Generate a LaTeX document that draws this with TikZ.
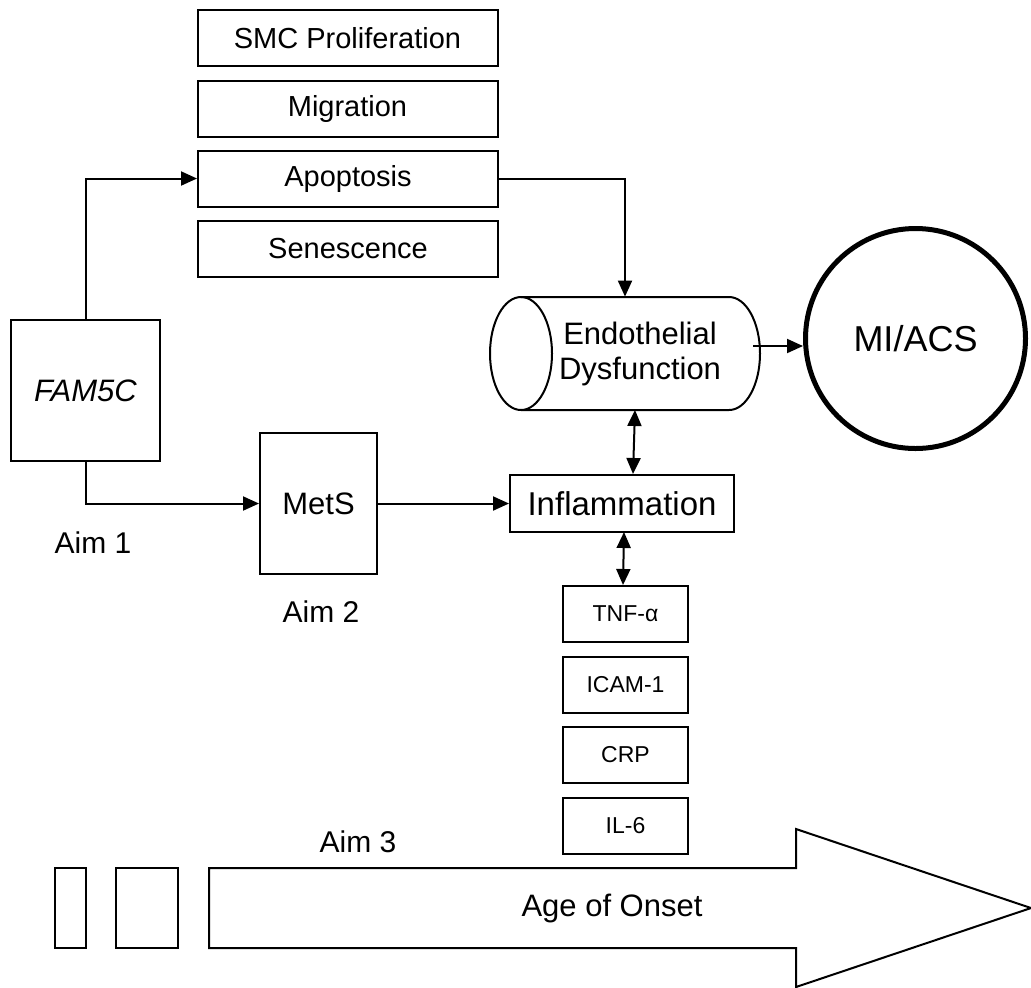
\documentclass[tikz,border=0pt]{standalone}
\usepackage{fontspec}
\setmainfont{Liberation Sans}
\usetikzlibrary{positioning, arrows.meta}
\tikzset{effect/.style={draw,line width=1pt,minimum width=150pt,minimum height=28pt,inner sep=0pt,font=\fontsize{14.5}{17}\selectfont},
         aimbox/.style={draw,line width=1pt,minimum height=70.5pt,inner sep=0pt,font=\fontsize{15.5}{18}\selectfont},
         marker/.style={draw,line width=1pt,minimum width=62.5pt,minimum height=28pt,inner sep=0pt,font=\fontsize{11.5}{13}\selectfont},
         aim/.style={inner sep=0pt,font=\fontsize{15}{18}\selectfont},
         link/.style={line width=1pt,-{Triangle[length=8pt,width=7pt]}},
         both/.style={line width=1pt,{Triangle[length=8pt,width=7pt]}-{Triangle[length=8pt,width=7pt]}},
        }
\begin{document}
\begin{tikzpicture}[x=0.5pt,y=-0.5pt]
        \useasboundingbox(0,0)rectangle(1031,987);
        \node[effect](smc)at(347.5,38){SMC Proliferation};
        \node[effect](mig)at(347.5,108.5){Migration};
        \node[effect](apop)at(348,178.5){Apoptosis};
        \node[effect](sen)at(348,249){Senescence};

        \node[aimbox,minimum width=74.5pt](fam)at(85.5,390.5){\textit{FAM5C}};
        \node[aimbox,minimum width=58.5pt](mets)at(318.5,503.5){MetS};
        \node[aim](aim1)at(93,543){Aim 1};
        \node[aim](aim2)at(321,612){Aim 2};

        \node[minimum width=135pt,minimum height=56.5pt,inner sep=0pt,align=center,font=\fontsize{15.5}{17.5}\selectfont](endo)at(640,353.5){Endothelial\\Dysfunction};
        \draw[line width=1pt](521,353.5)ellipse(31 and 56.5);
        \draw[line width=1pt](521,297)--(729,297)arc[start angle=-90,end angle=90,x radius=31,y radius=56.5]--(521,410);
        \node[draw,circle,line width=2.5pt,minimum size=110pt,inner sep=0pt,font=\fontsize{18}{21}\selectfont](mi)at(915.5,338.5){MI/ACS};

        \node[draw,line width=1pt,minimum width=112pt,minimum height=28.5pt,inner sep=0pt,font=\fontsize{16.5}{19}\selectfont](infl)at(622,503.5){Inflammation};
        \node[marker](tnf)at(625.5,614){TNF-α};
        \node[marker](icam)at(625.5,685){ICAM-1};
        \node[marker](crp)at(625.5,755){CRP};
        \node[marker](il6)at(625.5,825.5){IL-6};

        \draw[link](fam.north)|-(apop.west);
        \draw[link](fam.south)|-(mets.west);
        \draw[link](mets.east)--(infl.west);
        \draw[link](apop.east)-|(endo.north-|625,0);
        \draw[link](753,346)--(mi.west|-753,346);
        \draw[both](635,410)--(infl.north-|633,0);
        \draw[both](624,532)--(tnf.north-|623,0);

        \node[aim](aim3)at(358,842){Aim 3};
        \node[draw,line width=1pt,minimum width=15.25pt,minimum height=40pt,inner sep=0pt](tick1)at(70.25,908){};
        \node[draw,line width=1pt,minimum width=31pt,minimum height=40pt,inner sep=0pt](tick2)at(147,908){};
        \draw[line width=1pt](209,868)--(796,868)--(796,829)--(1031,908)--(796,987)--(796,948)--(209,948)--cycle;
        \node[inner sep=0pt,font=\fontsize{15.5}{18}\selectfont](onset)at(612,908){Age of Onset};
    \end{tikzpicture}
\end{document}
